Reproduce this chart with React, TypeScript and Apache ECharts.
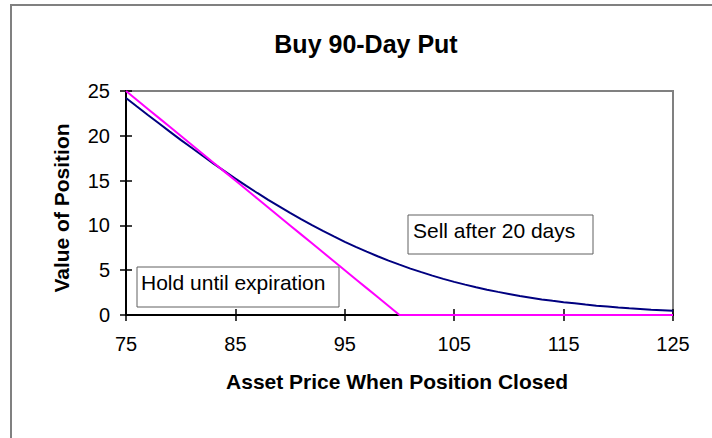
import React, { useEffect, useRef } from "react";
import * as echarts from "echarts";

const prices = [
  75, 76, 77, 78, 79, 80, 81, 82, 83, 84, 85, 86, 87, 88, 89, 90, 91, 92, 93, 94,
  95, 96, 97, 98, 99, 100, 101, 102, 103, 104, 105, 106, 107, 108, 109, 110, 111,
  112, 113, 114, 115, 116, 117, 118, 119, 120, 121, 122, 123, 124, 125,
];

const holdUntilExpiration = [
  25, 24, 23, 22, 21, 20, 19, 18, 17, 16, 15, 14, 13, 12, 11, 10, 9, 8, 7, 6,
  5, 4, 3, 2, 1, 0, 0, 0, 0, 0, 0, 0, 0, 0, 0, 0, 0,
  0, 0, 0, 0, 0, 0, 0, 0, 0, 0, 0, 0, 0, 0,
];

const sellAfter20Days = [
  24.22, 23.27, 22.33, 21.4, 20.47, 19.55, 18.66, 17.77, 16.9, 16.06, 15.22, 14.41,
  13.62, 12.85, 12.12, 11.39, 10.7, 10.02, 9.38, 8.77, 8.17, 7.6, 7.07, 6.56, 6.07,
  5.62, 5.18, 4.78, 4.39, 4.03, 3.7, 3.39, 3.09, 2.82, 2.58, 2.35, 2.12, 1.93, 1.74,
  1.58, 1.43, 1.3, 1.16, 1.04, 0.95, 0.84, 0.75, 0.67, 0.59, 0.53, 0.47,
];

const titleText = "Buy 90-Day Put";
const xTitle = "Asset Price When Position Closed";
const yTitle = "Value of Position";
const holdLabel = "Hold until expiration";
const sellLabel = "Sell after 20 days";

const FONT = "'Liberation Sans', Arial, Helvetica, sans-serif";

export default function App() {
  const ref = useRef<HTMLDivElement>(null);

  useEffect(() => {
    document.body.style.margin = "0";
    const chart = echarts.init(ref.current!, null, { renderer: "svg" });

    const axisCommonX = {
      type: "value",
      min: 75,
      max: 125,
      interval: 10,
      splitLine: { show: false },
    };
    const axisCommonY = {
      type: "value",
      min: 0,
      max: 25,
      interval: 5,
      splitLine: { show: false },
    };

    chart.setOption({
      animation: false,
      backgroundColor: "#ffffff",
      grid: {
        left: 126,
        top: 91,
        width: 547,
        height: 224,
        show: true,
        borderColor: "#808080",
        borderWidth: 2,
        backgroundColor: "transparent",
      },
      xAxis: [
        {
          ...axisCommonX,
          position: "bottom",
          axisLine: { show: true, lineStyle: { color: "#000000", width: 2 } },
          axisTick: { show: true, length: 6, lineStyle: { color: "#000000", width: 1.5 } },
          axisLabel: { margin: 19, fontSize: 20, color: "#000000", fontFamily: FONT },
        },
        {
          ...axisCommonX,
          position: "bottom",
          offset: 0,
          axisLine: { show: false },
          axisTick: { show: true, inside: true, length: 6, lineStyle: { color: "#000000", width: 1.5 } },
          axisLabel: { show: false },
        },
      ],
      yAxis: [
        {
          ...axisCommonY,
          position: "left",
          axisLine: { show: true, lineStyle: { color: "#000000", width: 2 } },
          axisTick: { show: true, length: 6, lineStyle: { color: "#000000", width: 1.5 } },
          axisLabel: { margin: 16, fontSize: 20, color: "#000000", fontFamily: FONT },
        },
        {
          ...axisCommonY,
          position: "left",
          offset: 0,
          axisLine: { show: false },
          axisTick: { show: true, inside: true, length: 6, lineStyle: { color: "#000000", width: 1.5 } },
          axisLabel: { show: false },
        },
      ],
      series: [
        {
          name: sellLabel,
          type: "line",
          xAxisIndex: 0,
          yAxisIndex: 0,
          showSymbol: false,
          symbol: "none",
          clip: false,
          lineStyle: { color: "#000080", width: 2 },
          data: prices.map((p, i) => [p, sellAfter20Days[i]]),
        },
        {
          name: holdLabel,
          type: "line",
          xAxisIndex: 0,
          yAxisIndex: 0,
          showSymbol: false,
          symbol: "none",
          clip: false,
          lineStyle: { color: "#ff00ff", width: 2 },
          data: prices.map((p, i) => [p, holdUntilExpiration[i]]),
        },
      ],
      graphic: [
        {
          type: "rect",
          z: 0,
          silent: true,
          shape: { x: 11, y: 5, width: 800, height: 500 },
          style: { fill: "none", stroke: "#808080", lineWidth: 2 },
        },
        {
          type: "text",
          x: 366,
          y: 44,
          style: {
            text: titleText,
            fontSize: 25,
            fontWeight: "bold",
            fontFamily: FONT,
            fill: "#000000",
            align: "center",
            verticalAlign: "middle",
          },
        },
        {
          type: "text",
          x: 397,
          y: 381,
          style: {
            text: xTitle,
            fontSize: 21,
            fontWeight: "bold",
            fontFamily: FONT,
            fill: "#000000",
            align: "center",
            verticalAlign: "middle",
          },
        },
        {
          type: "text",
          x: 61,
          y: 208,
          rotation: Math.PI / 2,
          style: {
            text: yTitle,
            fontSize: 21,
            fontWeight: "bold",
            fontFamily: FONT,
            fill: "#000000",
            align: "center",
            verticalAlign: "middle",
          },
        },
        {
          type: "rect",
          z: 10,
          shape: { x: 137, y: 267, width: 202, height: 40 },
          style: { fill: "#ffffff", stroke: "#606060", lineWidth: 1 },
        },
        {
          type: "text",
          z: 11,
          x: 141,
          y: 282,
          style: {
            text: holdLabel,
            fontSize: 21,
            fontFamily: FONT,
            fill: "#000000",
            align: "left",
            verticalAlign: "middle",
          },
        },
        {
          type: "rect",
          z: 10,
          shape: { x: 408, y: 215, width: 185, height: 39 },
          style: { fill: "#ffffff", stroke: "#606060", lineWidth: 1 },
        },
        {
          type: "text",
          z: 11,
          x: 413,
          y: 230,
          style: {
            text: sellLabel,
            fontSize: 21,
            fontFamily: FONT,
            fill: "#000000",
            align: "left",
            verticalAlign: "middle",
          },
        },
      ],
    });

    return () => chart.dispose();
  }, []);

  return <div ref={ref} style={{ width: 712, height: 438 }} />;
}
